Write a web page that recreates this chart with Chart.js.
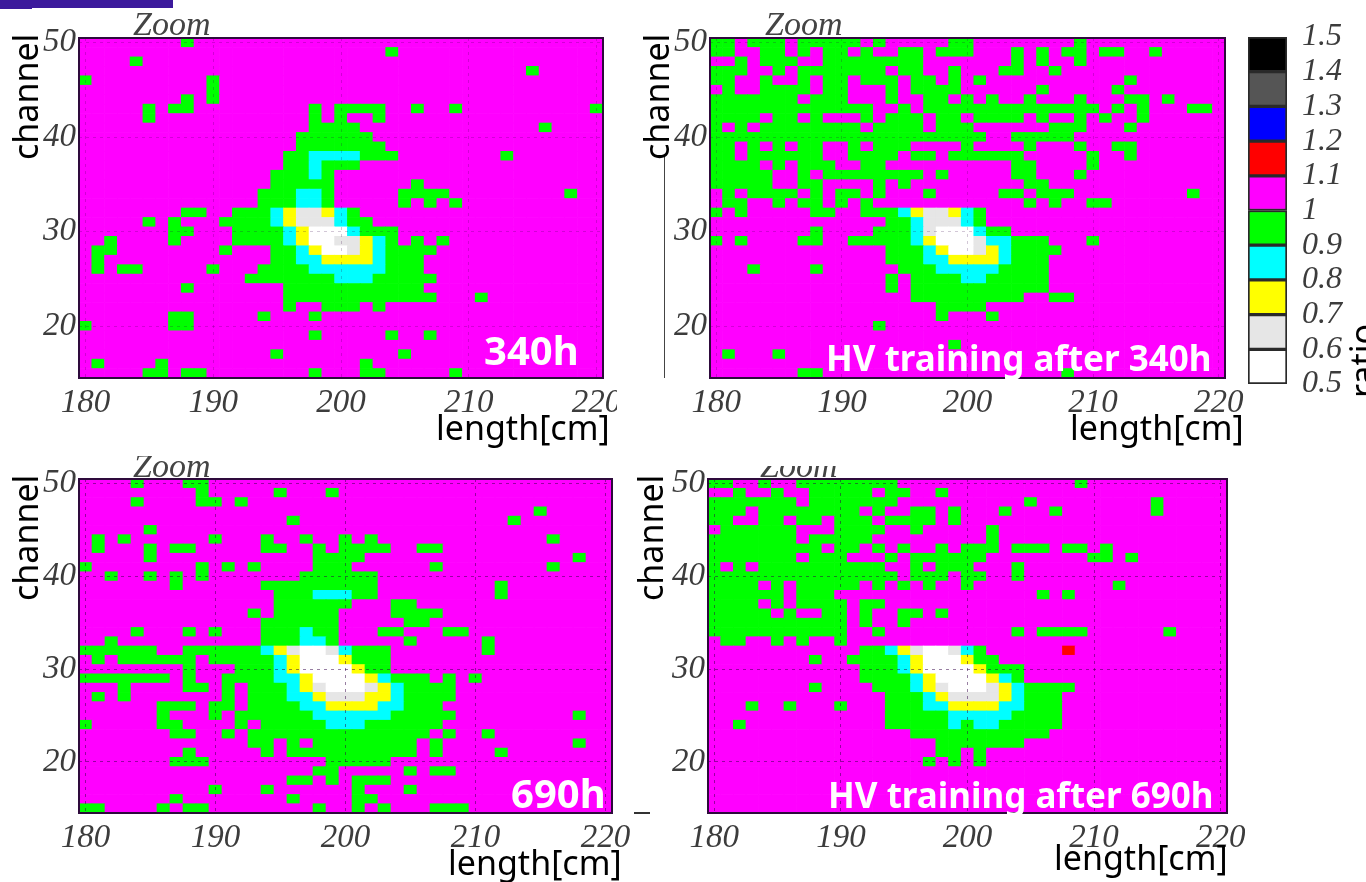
<!DOCTYPE html>
<html>
<head>
<meta charset="utf-8">
<title>ratio maps</title>
<script src="https://cdn.jsdelivr.net/npm/chart.js@4/dist/chart.umd.js"></script>
<style>
  html, body { margin: 0; background: #fff; width: 1366px; height: 882px; overflow: hidden; }
  canvas { position: absolute; filter: blur(.5px); }
  .lbl { position: absolute; white-space: nowrap; line-height: 1; font-family: "Noto Sans", sans-serif; font-size: 34px; color: #000; }
  .rot { transform-origin: 0 0; transform: rotate(-90deg); }
  .hour { font-weight: 700; color: #fff; }
  .zoom { font-family: "Liberation Serif", serif; font-style: italic; font-size: 34px; color: #444; }
  .clip { position: absolute; overflow: hidden; width: 100px; }
  .mark { position: absolute; }
</style>
</head>
<body>
<canvas id="p340" width="598" height="404" style="left:19px;top:24px"></canvas>
<canvas id="pHv340" width="600" height="394" style="left:650px;top:24px"></canvas>
<canvas id="p690" width="620" height="388" style="left:19px;top:465px"></canvas>
<canvas id="pHv690" width="597" height="388" style="left:648px;top:465px"></canvas>
<canvas id="scale" width="115" height="375" style="left:1248px;top:23px"></canvas>

<div class="mark" style="left:0;top:0;width:173px;height:8px;background:#3c1a9c"></div>
<div class="mark" style="left:0;top:0;width:32px;height:9px;background:#3c1a9c"></div>
<div class="mark" style="left:664px;top:155px;width:1px;height:223px;background:#444"></div>
<div class="mark" style="left:634px;top:812px;width:16px;height:2px;background:#333"></div>

<div class="lbl zoom" style="left:133px;top:7px">Zoom</div>
<div class="lbl zoom" style="left:765px;top:7px">Zoom</div>
<div class="clip" style="left:133px;top:456px;height:22px"><div class="lbl zoom" style="left:0;top:-7px">Zoom</div></div>
<div class="clip" style="left:760px;top:466px;height:11px"><div class="lbl zoom" style="left:0;top:-17px">Zoom</div></div>

<div class="lbl rot" style="left:8px;top:160px">channel</div>
<div class="lbl rot" style="left:639px;top:160px">channel</div>
<div class="lbl rot" style="left:8px;top:601px">channel</div>
<div class="lbl rot" style="left:633px;top:601px">channel</div>
<div class="lbl" style="left:436px;top:410px">length[cm]</div>
<div class="lbl" style="left:1070px;top:410px">length[cm]</div>
<div class="lbl" style="left:448px;top:845px">length[cm]</div>
<div class="lbl" style="left:1054px;top:840px">length[cm]</div>
<div class="lbl rot" style="left:1345px;top:398px">ratio</div>

<div class="lbl hour" style="left:484px;top:330px;font-size:40px">340h</div>
<div class="lbl hour" style="left:511px;top:773px;font-size:40px">690h</div>
<div class="lbl hour" style="left:826px;top:340px;font-size:35px">HV training after 340h</div>
<div class="lbl hour" style="left:828px;top:777px;font-size:35px">HV training after 690h</div>

<script>
// legend bins, bottom to top
var ratioTicks = [0.5, 0.6, 0.7, 0.8, 0.9, 1, 1.1, 1.2, 1.3, 1.4, 1.5];
var binColors = ['#ffffff', '#e6e6e6', '#ffff00', '#00ffff', '#00ff00', '#ff00ff', '#ff0000', '#0000ff', '#555555', '#000000'];

var lengthTicks = [180, 190, 200, 210, 220];
var channelTicks = [20, 30, 40, 50];
var firstLength = 180;
var topChannel = 50;

// map letter -> ratio
var cellRatio = { w: 0.55, e: 0.65, y: 0.75, c: 0.85, g: 0.95, '.': 1.05, r: 1.15 };

// one string per channel, 50 down to 15, one letter per cm, 180 to 220
var rows340 = [
  "........g. .......... .......... .......... .",
  ".......... .......... ....g..... .......... .",
  "....g..... .......... .......... .......... .",
  ".......... .......... .......... .....g.... .",
  "g......... g......... .......... .......... .",
  ".......... g......... .......... .......... .",
  "........g. g......... .......... .......... .",
  ".....g.gg. ........g. gggg..g..g .......... g",
  ".....g.... ........g. g..g...... .......... .",
  ".......... ........gg gg........ ......g... .",
  ".......... .......ggg ggg....... .......... .",
  ".......... .......ggg gggg...... .......... .",
  ".......... ......ggcc ccggg..... ...g...... .",
  ".......... ......ggcg gg........ .......... .",
  ".......... .....gggcg .......... .......... .",
  ".......... .....ggggg ......g... .......... .",
  ".......... ....gggccg .....gggg. ........g. .",
  ".......... ....gggccg .....g.g.g .......... .",
  "........gg ..gggcyeey cg........ .......... .",
  ".....g.g.. .ggggcyeee cgg....... .......... .",
  ".......gg. ..ggggcyww wcggg..... .......... .",
  "..g....g.. ..ggggcyww eeycg.g.g. .......... .",
  ".gg....... .g...ggcyw weycgggg.. .......... .",
  ".g........ .....ggccy yyycggg... .......... .",
  ".g.gg..... g...ggggcc ccccggg... .......... .",
  ".......... ...ggggggg cccggggg.. .......... .",
  "........g. ......gggg ggggggg... .......... .",
  ".......... ......gggg gggggggg.. .g........ .",
  ".......... ......g..g gg.g...... .......... .",
  ".......gg. ....g...g. .......... .......... .",
  "g......gg. .......... .......... .......... .",
  ".......... ........g. ....g..g.. .......... .",
  ".......... .......... .......... .......... .",
  ".......... .....g.... .....g.... .......... .",
  ".g....g... .......... ..g....... .......... .",
  ".....gg.gg ........g. ..gg.....g .......... ."
];

var rowsHv340 = [
  "gg.ggg.ggg gg.g.....g g........g .......... .",
  "gg..gg.g.g g.g..gg.gg g...g.g.gg .gg..g.... .",
  "..g.ggg..g ggggggg... ....g.g..g .......... .",
  "ggg..g.ggg gggg.gg..g ...gg..g.. .......... .",
  "gg..g..g.g g.ggg.gg.g .g........ ...g...... .",
  ".g..gggg.g g...g.gggg ......g... ..g....... .",
  "ggggggg.gg g...g..gg. g.g..g...g ...gg.g... .",
  "gggggggggg ggg..g.ggg gggggggggg g.g.g...gg .",
  "gggg.gg.g. ..g.ggg.gg .gggg.g..g .g..g..... .",
  "g.g.gggggg gg.gggg.gg g......ggg ...g...... .",
  "gggggggggg gggggggggg gg..ggggg. .......... .",
  "gg.g.g.gg. .g.ggg.... g....g...g ..gg...... .",
  "gg.gggggg. .gggg.gg.g ggggg..... g..g...... .",
  "gggg.g.ggg ..gg...... ....gg.... g......... .",
  "ggggg..g.g ggggggg.g. ....gg...g .......... .",
  "ggggg..gg. ...g.g.... .....gg... .......... .",
  ".g.gggg.g. gg.g...g.. ...gg.ggg. ........g. .",
  ".gg..g.gg. g.g....... .....g.g.. gg........ .",
  "g.g.....gg ..gggcyeey cg........ .......... .",
  ".......... ....ggceee cg........ .......... .",
  "........g. ...gggceww wcgg...... .......... .",
  "g.g....gg. .gggggcyww weccggg... g......... .",
  ".......... ....gggcyw weycgggg.. .......... .",
  ".......... ....gggccy yyycggg... .......... .",
  "...g....g. .....gggcc cccgggg... .......... .",
  ".......... ....g.gggg ccggggg... .......... .",
  ".......... ....g.gggg ggggggg... .......... .",
  ".......... ......gggg ggggg..gg. .......... .",
  ".......... ........gg gg........ .......... .",
  ".......... ........g. ..g....... .......... .",
  ".......... ...g...... .......... .......... .",
  ".......... .......... .......... .......... .",
  ".......... .........g .......... .......... .",
  ".g...g.... .......... .......... .......... .",
  ".......... .......... .......... .......... .",
  ".......gg. .......... ........g. .......... ."
];

var rows690 = [
  "....g...gg .......... .......... .......... .",
  ".........g .....g...g .......... .......... .",
  "....g....g g.g....... .......... .......... .",
  ".......... .......... .......... .....g.... .",
  ".......... ......g... .......... ...g...... .",
  ".....g.... .......... .......... .......... .",
  ".g.g...... g...g..g.. g.g....... ......g... .",
  ".g...g.gg. ....gg..g. gggg..gg.. .......... .",
  ".....g.... ........gg gg........ ........g. .",
  "g........g .g.g....gg g......g.. ......g... .",
  "..g..g.g.g .......ggg ggg....... .......... .",
  ".......g.. ....gggggg ggg....... ..g....... .",
  ".......... .....gggcc cgg....... ..g....... .",
  ".......... .....ggggg g...gg.... .......... .",
  ".......... ...g.ggggg ....gggg.. .......... .",
  ".......... ....gggggg .....gg... .......... .",
  "....g...g. g...gggcgg ...gg...gg .......... .",
  "..g....... ....gggccg .....g.... .g........ .",
  "gggggg..gg ggggcyewwe cggg...... .g........ .",
  ".g.gggggg. gggggcywww yggg...... .......... .",
  "........g. ..gggcywww wygg...... .......... .",
  "ggggggg.g. .ggggccyww wwycggg.g. g......... .",
  "...g....gg .g.gggcyew wweycgggg. .......... .",
  ".g.g...... .g.gggccye eeyycgggg. .......... .",
  "......ggg. gg.ggggccy yyyccggg.. .......... .",
  "......g... g.ggggggcc ccccggggg. ........g. .",
  "g.....gg.. ..g.gggggc ccgggggg.. .......... .",
  ".......gg. .g.ggggggg ggggggg.g. .g........ .",
  ".......... ...gg.g.gg gggggg.g.. ........g. .",
  "........g. ....g.gggg gggggg.g.. ..g....... .",
  ".......ggg .........g gggg...... .......... .",
  ".......... ........gg .....g.gg. .......... .",
  ".......... ......gg.g .ggg...... .......... .",
  ".......... g...g..... .g...g.... .......... .",
  ".......g.. ......g... .gg....... .......... .",
  "gg....g.gg ........g. .g.g...ggg .......... ."
];

var rowsHv690 = [
  "gg..g..ggg ggggg..... .........g .......... .",
  "..g..g..gg ggg.gg..g. .......... .......... .",
  "ggggggg.gg ggggg..... .....g.... .....g.... .",
  "ggg.gggggg gg.g..gg.g ...g...g.. .....g.... .",
  "gg..gg.gg. ggg.gggg.g .......... .......... .",
  ".gggggg... gggg..g... ..g....... .......... .",
  "ggggggg.gg ggg....... ..g....... .......... .",
  "ggggggggg. gg.g.g..g. ggg.ggg.gg .g........ .",
  "ggggggg.gg g...g.gggg gg........ gg.g...... .",
  "g.g.gggggg gggg..g.gg g...g..... .......... .",
  "gggggggggg ggggg.ggg. gg..g..... .......... .",
  "gggg.g.ggg gg.g.g.g.. g......... ..g....... .",
  "gggggg.ggg .......... ......g.g. .......... .",
  "gggg.g.ggg g.gg...... .......... .......... .",
  "ggggg.g..g g.g..gg.g. .......... .......... .",
  "gggggggggg g.g..g.... .......... .......... .",
  "gggggggggg g..g...... ....g.gggg ......g... .",
  ".gg..g.g.. g......... .......... .......... .",
  ".......... ..ggcyewwe cg......r. .......... .",
  "........g. .ggggcywww ygg....... .......... .",
  ".......... ..gggcywww wyggg..... .......... .",
  ".......... ..ggggcyww wwycg..... .......... .",
  "........g. ...gggcyew wweycgggg. .......... .",
  ".......... ....gggcye eeeycggg.. .......... .",
  "...g..g... g...gggccy yyyccggg.. .......... .",
  ".......... ....gggggc ccccgggg.. .......... .",
  "..g....... ....gggggc gccggggg.. .......... .",
  ".......... ......gggg ggggggg... .......... .",
  ".......... ........gg ggggg..... .......... .",
  ".......... ........gg .g........ .......... .",
  ".......... .......g.g .g........ .......... .",
  ".......... .......... .......... .......... .",
  ".......... .......... .......... .......... .",
  ".......... .......... .......... .......... .",
  ".......... .......... .......... .......... .",
  ".......... .......... .......... .......... ."
];

Chart.defaults.animation = false;
Chart.defaults.font.family = '"Liberation Serif", serif';
Chart.defaults.font.style = 'italic';
Chart.defaults.font.size = 33;
Chart.defaults.color = '#3c3c3c';

// frame round the plot, the axes only give two sides
var frame = {
  id: 'frame',
  afterDraw: function(chart) {
    var a = chart.chartArea, c = chart.ctx;
    c.save();
    c.strokeStyle = '#2e0a3c';
    c.lineWidth = 2;
    c.strokeRect(a.left, a.top, a.right - a.left, a.bottom - a.top);
    c.restore();
  }
};

function colorFor(ratio) {
  for (var i = 0; i < binColors.length; i++) {
    if (ratio < ratioTicks[i + 1]) return binColors[i];
  }
  return binColors[binColors.length - 1];
}

function buildCells(rows) {
  var cells = [];
  rows.forEach(function(row, r) {
    var letters = row.replace(/ /g, '');
    var channel = topChannel - r;
    for (var i = 0; i < letters.length; i++) {
      cells.push({ x: firstLength + i, y: [channel - 0.5, channel + 0.5], ratio: cellRatio[letters[i]] });
    }
  });
  return cells;
}

function fixTicks(values) {
  return function(scale) {
    scale.ticks = values.map(function(v) { return { value: v }; });
  };
}

function noOverflow(size, key) {
  return function(scale) {
    scale[key] = size;
    scale.paddingLeft = scale.paddingRight = scale.paddingTop = scale.paddingBottom = 0;
  };
}

function createPanel(id, rows, plotWidth, plotHeight, gridColor) {
  var el = document.getElementById(id);
  var axisW = 60, axisH = 40, topPad = 14;
  new Chart(el.getContext('2d'), {
    type: 'bar',
    data: {
      datasets: [{
        data: buildCells(rows),
        backgroundColor: function(ctx) { return ctx.raw ? colorFor(ctx.raw.ratio) : '#ff00ff'; },
        borderWidth: 0,
        barPercentage: 1,
        categoryPercentage: 1
      }]
    },
    options: {
      responsive: false,
      layout: { padding: { top: topPad, left: 0, right: el.width - axisW - plotWidth, bottom: el.height - topPad - plotHeight - axisH } },
      plugins: { legend: { display: false }, tooltip: { enabled: false } },
      scales: {
        x: {
          type: 'linear', offset: false, min: 179.5, max: 220.5,
          afterBuildTicks: fixTicks(lengthTicks),
          afterFit: noOverflow(axisH, 'height'),
          border: { display: false, dash: [3, 4] },
          grid: { offset: false, z: 1, color: gridColor, lineWidth: 1, drawTicks: false },
          ticks: { autoSkip: false, maxRotation: 0, padding: 6 }
        },
        y: {
          min: 14.5, max: 50.5,
          afterBuildTicks: fixTicks(channelTicks),
          afterFit: noOverflow(axisW, 'width'),
          border: { display: false, dash: [3, 4] },
          grid: { z: 1, color: gridColor, lineWidth: 1, drawTicks: false },
          ticks: { autoSkip: false, padding: 3 }
        }
      }
    },
    plugins: [frame]
  });
}

function createScale() {
  var el = document.getElementById('scale');
  var datasets = binColors.map(function(color, i) {
    return {
      data: [[ratioTicks[i], ratioTicks[i + 1]]],
      backgroundColor: color,
      borderColor: '#2a2a2a',
      borderWidth: 2,
      borderSkipped: false,
      grouped: false,
      barPercentage: 1,
      categoryPercentage: 1
    };
  });
  new Chart(el.getContext('2d'), {
    type: 'bar',
    data: { labels: ['ratio'], datasets: datasets },
    options: {
      responsive: false,
      layout: { padding: { top: 14, bottom: 14, left: 0, right: 0 } },
      plugins: { legend: { display: false }, tooltip: { enabled: false } },
      scales: {
        x: { display: false },
        y: {
          position: 'right', min: 0.5, max: 1.5,
          afterBuildTicks: fixTicks(ratioTicks),
          afterFit: noOverflow(76, 'width'),
          border: { display: false },
          grid: { display: false },
          ticks: { autoSkip: false, padding: 7, font: { size: 32 }, callback: function(v) { return String(v); } }
        }
      }
    }
  });
}

createPanel('p340', rows340, 524, 340, 'rgba(50,0,70,.22)');
createPanel('pHv340', rowsHv340, 515, 340, 'rgba(50,0,70,.22)');
createPanel('p690', rows690, 533, 334, 'rgba(50,0,70,.5)');
createPanel('pHv690', rowsHv690, 519, 334, 'rgba(50,0,70,.5)');
createScale();
</script>
</body>
</html>
